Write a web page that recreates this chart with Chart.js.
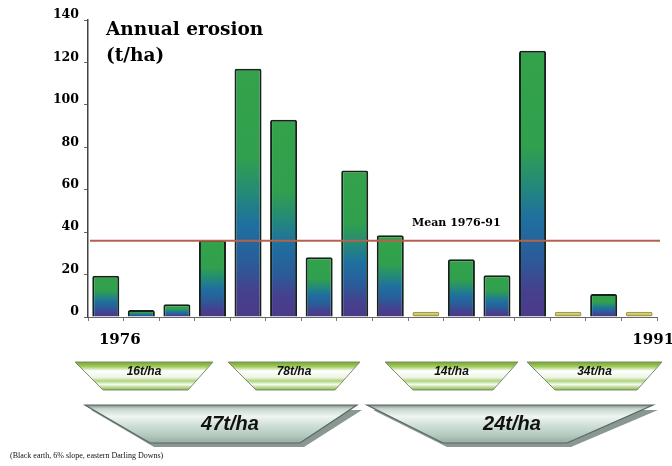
<!DOCTYPE html>
<html>
<head>
<meta charset="utf-8">
<script src="https://cdn.jsdelivr.net/npm/chart.js@4.4.1/dist/chart.umd.min.js"></script>
<style>
    html, body { margin: 0; padding: 0; background: #fff; }
    #wrap { width: 672px; height: 466px; }
</style>
</head>
<body>
<div id="wrap"><canvas id="erosao" width="672" height="466"></canvas></div>
<script>
// dados anuais (t/ha)
const anos = ["1976", "1977", "1978", "1979", "1980", "1981", "1982", "1983",
              "1984", "1985", "1986", "1987", "1988", "1989", "1990", "1991"];
const erosao = [19.5, 3.3, 6, 36.3, 117, 93, 28.2, 69, 38.5, 2.5, 27.2, 19.7, 125.5, 2.5, 10.8, 2.5];
const anosTraco = ["1985", "1989", "1991"]; // anos quase sem erosão (barra amarela)
const media = 36;
const rotuloMedia = "Mean 1976-91";
const ticksY = [0, 20, 40, 60, 80, 100, 120, 140];
const periodos4 = ["16t/ha", "78t/ha", "14t/ha", "34t/ha"];
const periodos8 = ["47t/ha", "24t/ha"];
const nota = "(Black earth, 6% slope, eastern Darling Downs)";

const serif = "'DejaVu Serif', serif";

function corBarra(c) { // gradiente verde -> azul -> roxo em cada barra
    const chart = c.chart;
    if (!chart.chartArea) return "#33a24a";
    if (anosTraco.includes(anos[c.dataIndex])) return "#cdc66c";
    const y = chart.scales.y;
    const topo = y.getPixelForValue(c.raw);
    const base = y.getPixelForValue(0);
    const g = chart.ctx.createLinearGradient(0, topo, 0, base);
    g.addColorStop(0, "#34a24a");
    g.addColorStop(0.36, "#30a04e");
    g.addColorStop(0.5, "#248a78");
    g.addColorStop(0.63, "#1f6fa0");
    g.addColorStop(0.78, "#2a5c9a");
    g.addColorStop(0.9, "#46408e");
    g.addColorStop(1, "#4b3a88");
    return g;
}

function trapezio(ctx, x1, x2, xb1, xb2, yTopo, yBase) {
    ctx.beginPath();
    ctx.moveTo(x1, yTopo);
    ctx.lineTo(x2, yTopo);
    ctx.lineTo(xb2, yBase);
    ctx.lineTo(xb1, yBase);
    ctx.closePath();
}

// linha da média, título e os trapézios de períodos
const extras = {
    id: "extras",
    afterDatasetsDraw(chart) {
        const ctx = chart.ctx;
        const area = chart.chartArea;
        const yMedia = chart.scales.y.getPixelForValue(media);

        ctx.save();
        ctx.strokeStyle = "#b4624c";
        ctx.lineWidth = 2;
        ctx.beginPath();
        ctx.moveTo(area.left + 2, yMedia);
        ctx.lineTo(area.right + 3, yMedia);
        ctx.stroke();

        ctx.fillStyle = "#000";
        ctx.textBaseline = "middle";
        ctx.font = "bold 11px " + serif;
        ctx.fillText(rotuloMedia, 412, yMedia - 17);

        ctx.font = "bold 18.5px " + serif;
        ctx.fillText("Annual erosion", 106, 30);
        ctx.fillText("(t/ha)", 106, 56);

        // trapézios de 4 anos
        const pequenos = [[75, 213], [228, 360], [385, 518], [527, 662]];
        pequenos.forEach(([a, b], i) => {
            const g = ctx.createLinearGradient(0, 362, 0, 390);
            g.addColorStop(0, "#74a82c");
            g.addColorStop(0.16, "#a0ca5a");
            g.addColorStop(0.32, "#ffffff");
            g.addColorStop(0.55, "#eef5e4");
            g.addColorStop(0.68, "#acd47c");
            g.addColorStop(0.8, "#f7fbf1");
            g.addColorStop(1, "#86ba40");
            trapezio(ctx, a, b, a + 28, b - 25, 362, 390);
            ctx.fillStyle = g;
            ctx.fill();
            ctx.strokeStyle = "#7d8a74";
            ctx.lineWidth = 1;
            ctx.stroke();
            ctx.fillStyle = "#111";
            ctx.textAlign = "center";
            ctx.font = "italic bold 12px 'Liberation Sans', sans-serif";
            ctx.fillText(periodos4[i], (a + b) / 2, 372);
        });

        // trapézios de 8 anos (com sombra)
        const grandes = [[85, 357, 150, 300], [367, 653, 443, 567]];
        grandes.forEach(([a, b, c, d], i) => {
            trapezio(ctx, a + 6, b + 5, c + 4, d + 4, 410, 447);
            ctx.fillStyle = "#8a9893";
            ctx.fill();
            const g = ctx.createLinearGradient(0, 405, 0, 443);
            g.addColorStop(0, "#7f8c86");
            g.addColorStop(0.1, "#c6d6cd");
            g.addColorStop(0.3, "#f0f5f2");
            g.addColorStop(0.55, "#cddfd5");
            g.addColorStop(0.8, "#b4c9be");
            g.addColorStop(1, "#98ada2");
            trapezio(ctx, a, b, c, d, 405, 443);
            ctx.fillStyle = g;
            ctx.fill();
            ctx.strokeStyle = "#5a6660";
            ctx.lineWidth = 1.2;
            ctx.stroke();
            ctx.fillStyle = "#111";
            ctx.font = "italic bold 20px 'Liberation Sans', sans-serif";
            ctx.fillText(periodos8[i], i === 0 ? 230 : 512, 424);
        });

        ctx.textAlign = "left";
        ctx.font = "8px 'Liberation Serif', serif";
        ctx.fillText(nota, 10, 456);
        ctx.restore();
    }
};

const ctxErosao = document.getElementById("erosao").getContext("2d");

new Chart(ctxErosao, {
    type: "bar",
    data: {
        labels: anos,
        datasets: [{
            label: "Annual erosion (t/ha)",
            data: erosao,
            backgroundColor: corBarra,
            borderColor: c => anosTraco.includes(anos[c.dataIndex]) ? "#a39e45" : "#14241a",
            borderWidth: c => anosTraco.includes(anos[c.dataIndex]) ? 1.5 : 2,
            borderRadius: 2,
            borderSkipped: c => anosTraco.includes(anos[c.dataIndex]) ? false : "start",
            barPercentage: 0.76,
            categoryPercentage: 1
        }]
    },
    options: {
        responsive: false,
        animation: false,
        layout: { padding: { top: 20, right: 15, left: 0, bottom: 0 } },
        plugins: { legend: { display: false }, tooltip: { enabled: false } },
        scales: {
            x: {
                grid: { drawOnChartArea: false, color: "#777", tickLength: 4 },
                border: { color: "#666", width: 1 },
                ticks: {
                    autoSkip: false,
                    maxRotation: 0,
                    labelOffset: 14,
                    padding: 10,
                    color: "#000",
                    font: { family: serif, weight: "bold", size: 15 },
                    callback: (v, i) => (i === 0 || i === anos.length - 1) ? anos[i] : ""
                },
                afterFit: s => { s.height = 149; }
            },
            y: {
                min: 0,
                max: 140,
                afterBuildTicks: s => { s.ticks = ticksY.map(v => ({ value: v })); },
                grid: { drawOnChartArea: false, color: "#666", tickLength: 4 },
                border: { color: "#444", width: 1.5 },
                ticks: {
                    color: "#000",
                    padding: 5,
                    labelOffset: -5,
                    font: { family: serif, weight: "bold", size: 12.5 }
                },
                afterFit: s => { s.width = 88; }
            }
        }
    },
    plugins: [extras]
});
</script>
</body>
</html>
